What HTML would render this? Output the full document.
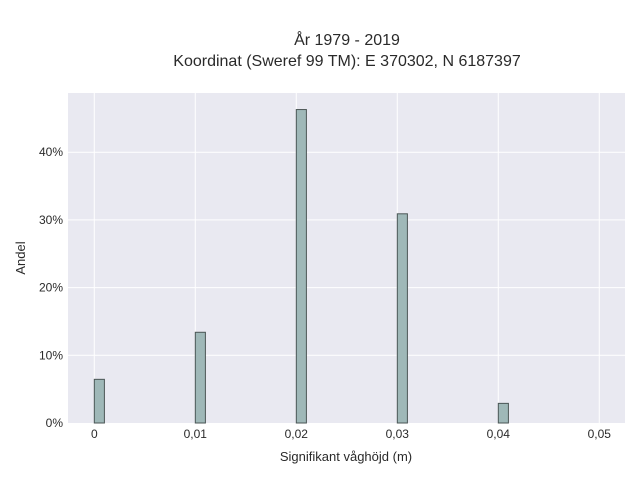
<!DOCTYPE html>
<html><head><meta charset="utf-8"><style>
body{margin:0;background:#fff;font-family:"Liberation Sans",sans-serif}
text{font-family:"Liberation Sans",sans-serif;fill:#2a2a2a}
</style></head><body>
<svg id="chart" width="640" height="480">
<text x="347" y="45" text-anchor="middle" font-size="16">År 1979 - 2019</text>
<text x="347" y="66" text-anchor="middle" font-size="16">Koordinat (Sweref 99 TM): E 370302, N 6187397</text>
<rect x="68" y="93" width="557" height="330" fill="#e9e9f1"/>
<g id="grid"></g><g id="bars"></g><g id="ticks"></g>
<text x="346" y="461" text-anchor="middle" font-size="13">Signifikant våghöjd (m)</text>
<text transform="translate(25,258) rotate(-90)" text-anchor="middle" font-size="13">Andel</text>
</svg>
<script>
const categories=[0,0.01,0.02,0.03,0.04];
const shares=[6.45,13.4,46.3,30.9,2.9];
const xTicks=[0,0.01,0.02,0.03,0.04,0.05];
const xTickLabels=["0","0,01","0,02","0,03","0,04","0,05"];
const yTicks=[0,10,20,30,40];
const yTickLabels=["0%","10%","20%","30%","40%"];
const binWidth=0.001;
const NS="http://www.w3.org/2000/svg";
const x=v=>94.3+v*10100;
const y=v=>423-v*6.77;
function mk(t,a,p){const e=document.createElementNS(NS,t);for(const k in a)e.setAttribute(k,a[k]);p.appendChild(e);return e;}
const grid=document.getElementById('grid'),bars=document.getElementById('bars'),ticks=document.getElementById('ticks');
xTicks.forEach((v,i)=>{
 const l=mk('line',{x1:x(v),x2:x(v),y1:93,y2:423,stroke:'#fff','stroke-width':1},grid);
 
 
 const t=mk('text',{x:x(v),y:438,'text-anchor':'middle','font-size':12},ticks);
 t.textContent=xTickLabels[i];
 
 
});
yTicks.forEach((v,i)=>{
 if(v>0){const l=mk('line',{x1:68,x2:625,y1:y(v),y2:y(v),stroke:'#fff','stroke-width':1},grid);
 
 }
 const t=mk('text',{x:63,y:y(v)+4,'text-anchor':'end','font-size':12},ticks);
 t.textContent=yTickLabels[i];
 
 
});
categories.forEach((c,i)=>{
 const r=mk('rect',{x:x(c),y:y(shares[i]),width:x(c+binWidth)-x(c),height:y(0)-y(shares[i]),fill:'#9fb8b8',stroke:'#4a5555','stroke-width':1},bars);
 
 
});
</script>
</body></html>
